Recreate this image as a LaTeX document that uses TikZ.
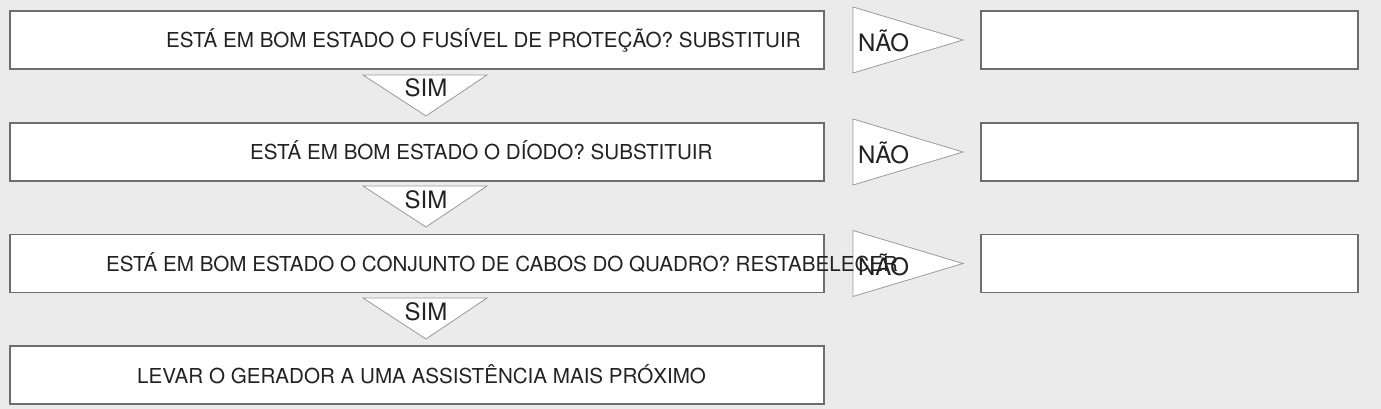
\documentclass[tikz,border=0pt]{standalone}
\usepackage{fontspec}
\setmainfont{TeX Gyre Heros}
\definecolor{fundo}{HTML}{EBEBEB}
\definecolor{borda}{HTML}{6E6E6E}
\definecolor{bordatri}{HTML}{9A9A9A}
\definecolor{texto}{HTML}{222222}
\tikzset{
  caixa/.style={draw=borda, fill=white, line width=1.3pt, minimum height=58pt, inner sep=0pt},
  seta/.style={draw=bordatri, fill=white, line width=0.8pt, line join=miter},
  rotulo/.style={text=texto, inner sep=0pt, anchor=base},
  grande/.style={font=\fontsize{24}{28}\selectfont},
}
\begin{document}
\begin{tikzpicture}[x=1pt,y=-1pt,font=\fontsize{20.6}{24}\selectfont]
                % Draw the background
                \fill[fundo] (0,0) rectangle (1381,409);
                \useasboundingbox (0,0) rectangle (1381,409);
                % Draw the question boxes
                \foreach \n/\y in {1/40,2/152,3/263.5,4/375}{
                    \node[caixa, minimum width=814pt] (q\n) at (417,\y) {};
                }
                % Draw the empty boxes and the NAO triangles
                \foreach \n/\y in {1/40,2/152,3/263.5}{
                    \node[caixa, minimum width=377pt] (r\n) at (1169.5,\y) {};
                    \draw[seta] (853,\y-33) -- (963,\y) -- (853,\y+33) -- cycle;
                    \node[rotulo, grande, anchor=base west] (n\n) at (858,\y+12) {NÃO};
                }
                % Draw the SIM triangles between the boxes
                \foreach \n/\y in {1/75,2/186,3/298}{
                    \draw[seta] (363,\y) -- (487,\y) -- (426,\y+41) -- cycle;
                    \node[rotulo, grande] (s\n) at (426,\y+22) {SIM};
                }
                % Write the questions
                \foreach \n/\x/\y/\t in {1/166/48/{ESTÁ EM BOM ESTADO O FUSÍVEL DE PROTEÇÃO? SUBSTITUIR},
                    2/250/160/{ESTÁ EM BOM ESTADO O DÍODO? SUBSTITUIR},
                    3/106/271.5/{ESTÁ EM BOM ESTADO O CONJUNTO DE CABOS DO QUADRO? RESTABELECER},
                    4/137/383/{LEVAR O GERADOR A UMA ASSISTÊNCIA MAIS PRÓXIMO}}{
                    \node[rotulo, anchor=base west] (t\n) at (\x,\y) {\t};
                }
            \end{tikzpicture}
\end{document}
